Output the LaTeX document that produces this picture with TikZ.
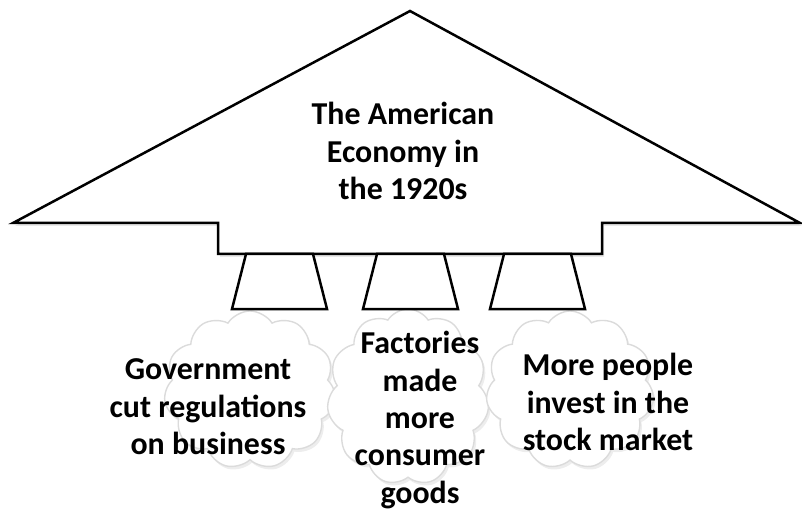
\documentclass[tikz,border=0pt]{standalone}
\usepackage{fontspec}
\setmainfont{Carlito}
\usepackage{tikz}
\usetikzlibrary{shapes.symbols, shadows}

\tikzset{
  roofline/.style={draw=black, line width=2.5bp, fill=white, line join=miter,
                   drop shadow={opacity=0.18, shadow xshift=2bp, shadow yshift=-3bp}},
  legbox/.style={draw=black, line width=2.5bp, fill=white, line join=miter},
  puff/.style={shape=cloud, cloud puffs=11, cloud puff arc=115, draw=black!14,
               line width=1.4bp, fill=white, inner sep=0pt,
               drop shadow={opacity=0.14, shadow xshift=2bp, shadow yshift=-3bp}},
  caption/.style={font=\fontsize{32}{37.5}\selectfont\bfseries, align=center,
                  inner sep=0pt}
}

\begin{document}
\begin{tikzpicture}[x=1bp, y=-1bp]
  \useasboundingbox (0,0) rectangle (802,511);

  % the roof and its base block
  \path[roofline] (13,223) -- (410,11) -- (800,223) -- (602,223) -- (602,254)
    -- (218,254) -- (218,223) -- cycle;
  \node[caption] (title) at (403,151) {The American\\Economy in\\the 1920s};

  % clouds under the roof
  \node[puff, minimum width=172bp, minimum height=158bp] (govcloud) at (250,390) {};
  \node[puff, minimum width=162bp, minimum height=176bp] (factcloud) at (408,397) {};
  \node[puff, minimum width=168bp, minimum height=158bp] (stockcloud) at (570,390) {};

  % legs holding the roof up
  \foreach \x in {279,410,537}
    \path[legbox] (\x-33,254) -- (\x+34,254) -- (\x+48,309) -- (\x-47,309) -- cycle;

  \node[caption] (gov) at (208,407) {Government\\cut regulations\\on business};
  \node[caption] (fact) at (420,420) {Factories\\made\\more\\consumer\\goods};
  \node[caption] (stock) at (608,402) {More people\\invest in the\\stock market};
\end{tikzpicture}
\end{document}
